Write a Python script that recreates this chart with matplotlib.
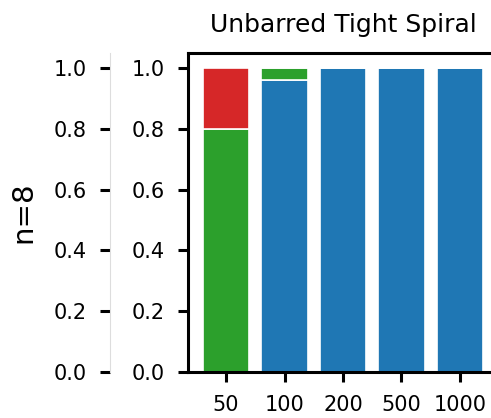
import matplotlib
matplotlib.use('Agg')
import matplotlib.pyplot as plt

# data
categories = ["50", "100", "200", "500", "1000"]
frac_blue = [0.0, 0.96, 1.0, 1.0, 1.0]
frac_green = [0.8, 0.04, 0.0, 0.0, 0.0]
frac_red = [0.2, 0.0, 0.0, 0.0, 0.0]
yticks = [0.0, 0.2, 0.4, 0.6, 0.8, 1.0]

plt.rcParams['font.family'] = ['DejaVu Sans']

W, H = 491, 418
fig = plt.figure(figsize=(W / 100, H / 100), dpi=100)

bottom = (H - 372) / H
height = (372 - 53) / H

# left label axis (only the left spine, faint)
ax0 = fig.add_axes([110 / W, bottom, 0.1, height])
ax0.set_ylim(0, 1.05)
ax0.set_yticks(yticks)
ax0.set_yticklabels([f"{t:.1f}" for t in yticks])
ax0.set_xticks([])
for s in ["top", "right", "bottom"]:
    ax0.spines[s].set_visible(False)
ax0.spines["left"].set_color("#dddddd")
ax0.spines["left"].set_linewidth(0.8)
ax0.tick_params(axis="y", length=7.5, width=2.2, pad=9, labelsize=15)
ax0.set_ylabel("n=8", fontsize=21, labelpad=12)
ax0.patch.set_alpha(0)

# main axes
ax = fig.add_axes([188 / W, bottom, (498 - 188) / W, height])
x = list(range(len(categories)))
ax.bar(x, frac_blue, width=0.8, color="#1f77b4", edgecolor="white", linewidth=1.2)
ax.bar(x, frac_green, width=0.8, bottom=frac_blue, color="#2ca02c",
       edgecolor="white", linewidth=1.2)
bot2 = [b + g for b, g in zip(frac_blue, frac_green)]
ax.bar(x, frac_red, width=0.8, bottom=bot2, color="#d62728",
       edgecolor="white", linewidth=1.2)

ax.set_xlim(-0.65, 4.65)
ax.set_ylim(0, 1.05)
ax.set_xticks(x)
ax.set_xticklabels(categories)
ax.set_yticks(yticks)
ax.set_yticklabels([f"{t:.1f}" for t in yticks])
ax.spines["right"].set_visible(False)
for s in ["left", "bottom", "top"]:
    ax.spines[s].set_linewidth(2.2)
ax.tick_params(length=7.5, width=2.2, pad=9, labelsize=15)
ax.set_title("Unbarred Tight Spiral", fontsize=18, pad=15, x=(343 - 188) / (498 - 188))

fig.savefig("out.png", dpi=100)
